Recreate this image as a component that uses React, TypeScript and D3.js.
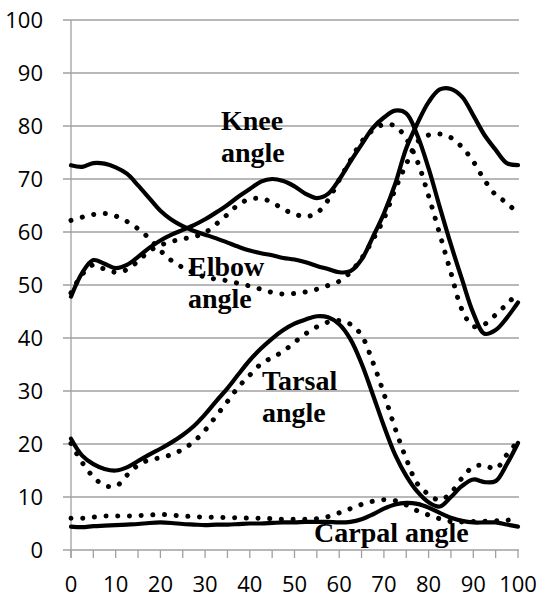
import React from "react";
import * as d3 from "d3";

// x positions (percent of cycle) shared by all series
const xs: number[] = d3.range(0, 100.01, 2.5);

const elbowSolid = [72.6, 72.3, 73.0, 72.9, 72.2, 71.0, 68.8, 66.4, 64.0, 62.3, 61.1, 60.2, 59.5, 58.8, 58.0, 57.2, 56.5, 56.0, 55.6, 55.1, 54.8, 54.3, 53.6, 53.0, 52.4, 52.6, 54.8, 59.0, 63.5, 69.0, 75.8, 80.5, 84.5, 86.9, 87.0, 85.5, 82.0, 78.3, 75.5, 73.0, 72.6];
const elbowDotted = [62.2, 62.8, 63.3, 63.5, 63.0, 62.0, 60.6, 58.8, 56.5, 54.6, 53.3, 52.3, 51.5, 51.1, 50.8, 50.3, 49.8, 49.2, 48.6, 48.3, 48.4, 48.7, 49.2, 49.9, 50.7, 52.4, 55.0, 58.5, 62.5, 68.0, 72.8, 77.0, 78.3, 78.5, 77.8, 76.0, 73.3, 69.8, 67.0, 65.5, 63.4];
const kneeSolid = [47.8, 52.3, 54.7, 54.0, 53.2, 53.8, 55.3, 57.0, 58.4, 59.5, 60.4, 61.3, 62.4, 63.7, 65.1, 66.7, 68.1, 69.5, 70.0, 69.6, 68.6, 67.2, 66.4, 67.2, 69.9, 73.3, 76.5, 79.6, 81.6, 82.9, 82.4, 78.2, 72.0, 64.7, 57.6, 51.0, 44.7, 40.8, 41.5, 43.8, 46.7];
const kneeDotted = [48.5, 52.0, 53.8, 53.0, 52.4, 52.9, 54.5, 56.4, 57.5, 58.2, 58.7, 59.1, 59.9, 61.5, 63.3, 65.2, 66.2, 66.3, 65.6, 64.3, 63.4, 62.9, 63.6, 66.0, 69.8, 73.5, 77.0, 79.2, 80.3, 80.0, 77.6, 73.3, 66.8, 59.6, 52.3, 45.3, 42.2, 42.6, 44.4, 46.4, 48.5];
const tarsalSolid = [21.0, 17.8, 16.2, 15.3, 15.0, 15.6, 16.8, 18.0, 19.1, 20.3, 21.7, 23.4, 25.6, 28.1, 30.5, 33.2, 35.8, 38.0, 39.9, 41.5, 42.7, 43.5, 44.1, 43.9, 42.6, 39.8, 35.2, 29.4, 23.4, 18.0, 14.0, 11.0, 9.0, 8.2, 10.0, 12.1, 13.3, 12.8, 13.0, 16.2, 20.2];
const tarsalDotted = [20.1, 16.5, 13.8, 12.2, 12.0, 14.1, 16.0, 17.0, 17.4, 18.0, 19.0, 20.5, 22.6, 25.3, 28.0, 30.8, 33.0, 35.1, 36.3, 37.5, 39.2, 40.8, 42.1, 43.0, 43.3, 42.6, 40.5, 35.5, 29.5, 23.0, 17.2, 12.5, 10.5, 9.4, 10.8, 13.6, 15.7, 16.0, 15.3, 18.0, 20.5];
const carpalSolid = [4.4, 4.3, 4.5, 4.6, 4.7, 4.8, 4.9, 5.1, 5.2, 5.1, 4.9, 4.8, 4.7, 4.8, 4.8, 4.9, 5.0, 5.0, 5.1, 5.2, 5.2, 5.3, 5.3, 5.3, 5.2, 5.3, 5.8, 6.7, 7.8, 8.6, 8.9, 8.7, 8.0, 7.0, 6.1, 5.5, 5.2, 5.2, 5.2, 4.8, 4.4];
const carpalDotted = [6.0, 6.0, 6.2, 6.4, 6.4, 6.4, 6.5, 6.6, 6.7, 6.6, 6.4, 6.3, 6.2, 6.2, 6.1, 6.1, 6.0, 6.0, 5.9, 5.8, 5.8, 5.8, 5.9, 6.3, 7.0, 7.8, 8.6, 9.2, 9.5, 9.3, 8.5, 7.4, 6.6, 5.9, 5.4, 5.3, 5.4, 5.4, 5.5, 5.6, 6.0];

const solidSeries = [elbowSolid, kneeSolid, tarsalSolid, carpalSolid];
const dottedSeries = [elbowDotted, kneeDotted, tarsalDotted, carpalDotted];

const yTicks = [0, 10, 20, 30, 40, 50, 60, 70, 80, 90, 100];
const xLabelTicks = [0, 10, 20, 30, 40, 50, 60, 70, 80, 90, 100];
const xMinorTicks: number[] = d3.range(0, 100.01, 5);

const labels = [
  { lines: ["Knee", "angle"], x: 221, y: 130 },
  { lines: ["Elbow", "angle"], x: 188, y: 276 },
  { lines: ["Tarsal", "angle"], x: 262, y: 390 },
  { lines: ["Carpal angle"], x: 314, y: 542 },
];

export default function App() {
  const x = d3.scaleLinear().domain([0, 100]).range([71, 518]);
  const y = d3.scaleLinear().domain([0, 100]).range([550, 20]);
  const line = d3
    .line<number>()
    .x((_, i) => x(xs[i]))
    .y((d) => y(d))
    .curve(d3.curveCatmullRom.alpha(0.5));
  const grid = "#a0a0a0";
  return (
    <svg
      width={540}
      height={599}
      style={{ position: "absolute", left: 0, top: 0, background: "#fff" }}
    >
      {yTicks.map((t) => (
        <line key={"g" + t} x1={63} x2={519} y1={y(t)} y2={y(t)} stroke={grid} strokeWidth={1.3} />
      ))}
      <line x1={x(0)} x2={x(0)} y1={y(100)} y2={558} stroke={grid} strokeWidth={1.3} />
      {xMinorTicks.map((t) => (
        <line key={"t" + t} x1={x(t)} x2={x(t)} y1={y(0)} y2={558} stroke={grid} strokeWidth={1.3} />
      ))}
      {yTicks.map((t) => (
        <text
          key={"yl" + t}
          x={43}
          y={y(t) + 8}
          textAnchor="end"
          fontFamily="'Open Sans', sans-serif"
          fontSize={22}
          fill="#000"
        >
          {t}
        </text>
      ))}
      {xLabelTicks.map((t) => (
        <text
          key={"xl" + t}
          x={x(t)}
          y={592}
          textAnchor="middle"
          fontFamily="'Open Sans', sans-serif"
          fontSize={22}
          fill="#000"
        >
          {t}
        </text>
      ))}
      {solidSeries.map((s, i) => (
        <path key={"s" + i} d={line(s) || ""} fill="none" stroke="#000" strokeWidth={4.2} strokeLinejoin="round" strokeLinecap="round" />
      ))}
      {dottedSeries.map((s, i) => (
        <path key={"d" + i} d={line(s) || ""} fill="none" stroke="#000" strokeWidth={5} strokeLinecap="round" strokeDasharray="0.1 11.6" />
      ))}
      {labels.map((l, i) => (
        <text
          key={"lab" + i}
          fontFamily="'Liberation Serif', 'Times New Roman', serif"
          fontWeight="bold"
          fontSize={28}
          fill="#000"
        >
          {l.lines.map((ln, j) => (
            <tspan key={j} x={l.x} y={l.y + j * 32}>
              {ln}
            </tspan>
          ))}
        </text>
      ))}
    </svg>
  );
}
